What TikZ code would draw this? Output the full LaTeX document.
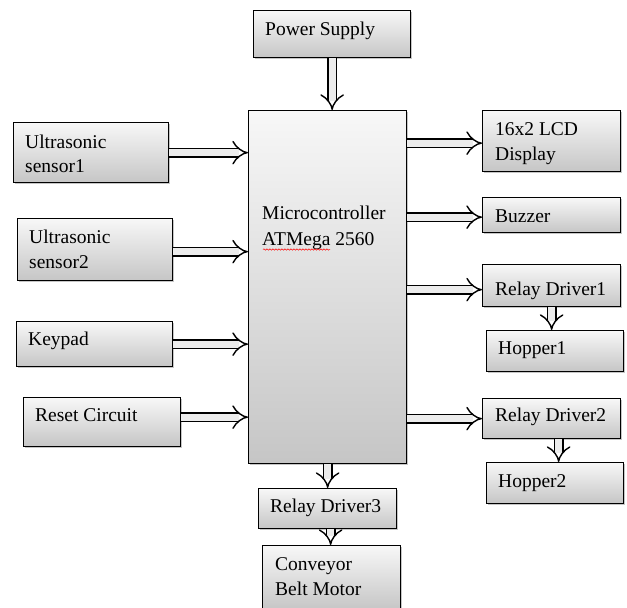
\documentclass[tikz,border=0pt]{standalone}
\usepackage{fontspec}
\setmainfont{Liberation Serif}
\usetikzlibrary{arrows.meta,shadows,decorations.pathmorphing}
\begin{document}
\begin{tikzpicture}[x=1pt,y=-1pt,
  box/.style={draw=black, line width=1.3pt, top color=gray!6, bottom color=gray!45,
    drop shadow={opacity=0.45, shadow xshift=1.5pt, shadow yshift=-1.5pt},
    anchor=north west, inner sep=0pt},
  lbl/.style={anchor=base west, inner sep=0pt, font=\fontsize{19.5}{23}\selectfont},
  arr/.style={line width=1.4pt, double=gray!15, double distance=7pt, -{Implies}}]
\useasboundingbox (0,0) rectangle (627,608);
% boxes
\node[box, minimum width=157pt, minimum height=47pt] (ps) at (253,10) {};
\node[box, minimum width=158pt, minimum height=353pt] (mc) at (248,110) {};
\node[box, minimum width=155pt, minimum height=60pt] (us1) at (13,122) {};
\node[box, minimum width=155pt, minimum height=62pt] (us2) at (17,218) {};
\node[box, minimum width=156pt, minimum height=45pt] (kp) at (16,321) {};
\node[box, minimum width=157pt, minimum height=49pt] (rc) at (23,397) {};
\node[box, minimum width=138pt, minimum height=61pt] (lcd) at (482,110) {};
\node[box, minimum width=138pt, minimum height=35pt] (bz) at (482,197) {};
\node[box, minimum width=138pt, minimum height=42pt] (rd1) at (482,264) {};
\node[box, minimum width=137pt, minimum height=41pt] (hp1) at (486,330) {};
\node[box, minimum width=138pt, minimum height=40pt] (rd2) at (482,398) {};
\node[box, minimum width=137pt, minimum height=41pt] (hp2) at (486,462) {};
\node[box, minimum width=138pt, minimum height=40pt] (rd3) at (258,488) {};
\node[box, minimum width=138pt, minimum height=64pt] (cv) at (262,545) {};
% labels
\node[lbl] (t1) at (265,35) {Power Supply};
\node[lbl] (t2) at (262,219) {Microcontroller};
\node[lbl] (t3) at (262,245) {ATMega 2560};
\draw[red, line width=0.5pt, decorate, decoration={snake, amplitude=0.7pt, segment length=3pt}] (263,249.5) -- (330,249.5);
\node[lbl] (t4) at (25,148) {Ultrasonic};
\node[lbl] (t5) at (25,172) {sensor1};
\node[lbl] (t6) at (29,243) {Ultrasonic};
\node[lbl] (t7) at (29,268) {sensor2};
\node[lbl] (t8) at (28,345) {Keypad};
\node[lbl] (t9) at (35,421) {Reset Circuit};
\node[lbl] (t10) at (495,135) {16x2 LCD};
\node[lbl] (t11) at (495,160) {Display};
\node[lbl] (t12) at (495,222) {Buzzer};
\node[lbl] (t13) at (495,295) {Relay Driver1};
\node[lbl] (t14) at (498,354) {Hopper1};
\node[lbl] (t15) at (495,421) {Relay Driver2};
\node[lbl] (t16) at (498,487) {Hopper2};
\node[lbl] (t17) at (270,512) {Relay Driver3};
\node[lbl] (t18) at (275,570) {Conveyor};
\node[lbl] (t19) at (275,595) {Belt Motor};
% arrows
\draw[arr] (ps.south) -- (ps.south |- mc.north);
\draw[arr] (us1.east) -- (us1.east -| mc.west);
\draw[arr] ([yshift=-2pt]us2.east) -- ([yshift=-2pt]us2.east -| mc.west);
\draw[arr] (kp.east) -- (kp.east -| mc.west);
\draw[arr] ([yshift=5pt]rc.east) -- ([yshift=5pt]rc.east -| mc.west);
\draw[arr] ([yshift=-2pt]lcd.west -| mc.east) -- ([yshift=-2pt]lcd.west);
\draw[arr] ([yshift=-2pt]bz.west -| mc.east) -- ([yshift=-2pt]bz.west);
\draw[arr] ([yshift=-4pt]rd1.west -| mc.east) -- ([yshift=-4pt]rd1.west);
\draw[arr] (rd2.west -| mc.east) -- (rd2.west);
\draw[arr] (rd1.south) -- (rd1.south |- hp1.north);
\draw[arr] ([xshift=7pt]rd2.south) -- ([xshift=7pt]rd2.south |- hp2.north);
\draw[arr] (mc.south) -- (mc.south |- rd3.north);
\draw[arr] ([xshift=3pt]rd3.south) -- ([xshift=3pt]rd3.south |- cv.north);
\end{tikzpicture}
\end{document}
